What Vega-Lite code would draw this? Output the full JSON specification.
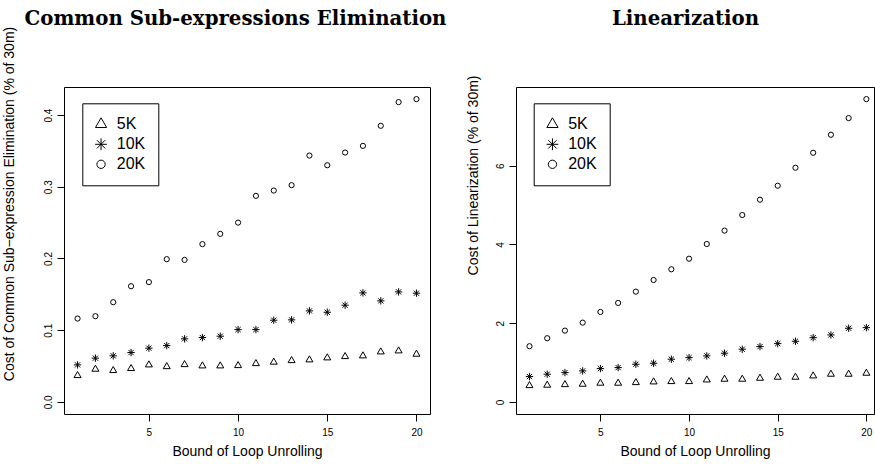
{
  "$schema": "https://vega.github.io/schema/vega-lite/v6.json",
  "autosize": {"type": "pad"},
  "padding": {"left": 1, "top": 8, "right": 0, "bottom": 5},
  "background": "white",
  "bounds": "flush",
  "spacing": 86,
  "datasets": {
    "cse": [
      {"bound":1,"size":"5K","cost":0.0367},{"bound":2,"size":"5K","cost":0.0456},{"bound":3,"size":"5K","cost":0.0437},{"bound":4,"size":"5K","cost":0.0465},{"bound":5,"size":"5K","cost":0.0516},{"bound":6,"size":"5K","cost":0.0492},{"bound":7,"size":"5K","cost":0.052},{"bound":8,"size":"5K","cost":0.0502},{"bound":9,"size":"5K","cost":0.0502},{"bound":10,"size":"5K","cost":0.0506},{"bound":11,"size":"5K","cost":0.0534},{"bound":12,"size":"5K","cost":0.0554},{"bound":13,"size":"5K","cost":0.0576},{"bound":14,"size":"5K","cost":0.0586},{"bound":15,"size":"5K","cost":0.0614},{"bound":16,"size":"5K","cost":0.0632},{"bound":17,"size":"5K","cost":0.0642},{"bound":18,"size":"5K","cost":0.0697},{"bound":19,"size":"5K","cost":0.0711},{"bound":20,"size":"5K","cost":0.0665},
      {"bound":1,"size":"10K","cost":0.0516},{"bound":2,"size":"10K","cost":0.061},{"bound":3,"size":"10K","cost":0.0642},{"bound":4,"size":"10K","cost":0.0688},{"bound":5,"size":"10K","cost":0.0749},{"bound":6,"size":"10K","cost":0.0785},{"bound":7,"size":"10K","cost":0.0879},{"bound":8,"size":"10K","cost":0.0897},{"bound":9,"size":"10K","cost":0.0916},{"bound":10,"size":"10K","cost":0.1008},{"bound":11,"size":"10K","cost":0.1008},{"bound":12,"size":"10K","cost":0.1139},{"bound":13,"size":"10K","cost":0.1144},{"bound":14,"size":"10K","cost":0.1269},{"bound":15,"size":"10K","cost":0.125},{"bound":16,"size":"10K","cost":0.1348},{"bound":17,"size":"10K","cost":0.152},{"bound":18,"size":"10K","cost":0.1409},{"bound":19,"size":"10K","cost":0.1534},{"bound":20,"size":"10K","cost":0.1516},
      {"bound":1,"size":"20K","cost":0.1162},{"bound":2,"size":"20K","cost":0.1195},{"bound":3,"size":"20K","cost":0.139},{"bound":4,"size":"20K","cost":0.1613},{"bound":5,"size":"20K","cost":0.167},{"bound":6,"size":"20K","cost":0.199},{"bound":7,"size":"20K","cost":0.198},{"bound":8,"size":"20K","cost":0.22},{"bound":9,"size":"20K","cost":0.2343},{"bound":10,"size":"20K","cost":0.25},{"bound":11,"size":"20K","cost":0.2873},{"bound":12,"size":"20K","cost":0.2947},{"bound":13,"size":"20K","cost":0.3022},{"bound":14,"size":"20K","cost":0.3435},{"bound":15,"size":"20K","cost":0.33},{"bound":16,"size":"20K","cost":0.3477},{"bound":17,"size":"20K","cost":0.357},{"bound":18,"size":"20K","cost":0.385},{"bound":19,"size":"20K","cost":0.418},{"bound":20,"size":"20K","cost":0.4222}
    ],
    "lin": [
      {"bound":1,"size":"5K","cost":0.414},{"bound":2,"size":"5K","cost":0.424},{"bound":3,"size":"5K","cost":0.439},{"bound":4,"size":"5K","cost":0.449},{"bound":5,"size":"5K","cost":0.475},{"bound":6,"size":"5K","cost":0.475},{"bound":7,"size":"5K","cost":0.49},{"bound":8,"size":"5K","cost":0.508},{"bound":9,"size":"5K","cost":0.516},{"bound":10,"size":"5K","cost":0.516},{"bound":11,"size":"5K","cost":0.558},{"bound":12,"size":"5K","cost":0.576},{"bound":13,"size":"5K","cost":0.576},{"bound":14,"size":"5K","cost":0.601},{"bound":15,"size":"5K","cost":0.627},{"bound":16,"size":"5K","cost":0.627},{"bound":17,"size":"5K","cost":0.66},{"bound":18,"size":"5K","cost":0.703},{"bound":19,"size":"5K","cost":0.703},{"bound":20,"size":"5K","cost":0.728},
      {"bound":1,"size":"10K","cost":0.643},{"bound":2,"size":"10K","cost":0.703},{"bound":3,"size":"10K","cost":0.744},{"bound":4,"size":"10K","cost":0.787},{"bound":5,"size":"10K","cost":0.845},{"bound":6,"size":"10K","cost":0.871},{"bound":7,"size":"10K","cost":0.956},{"bound":8,"size":"10K","cost":0.982},{"bound":9,"size":"10K","cost":1.084},{"bound":10,"size":"10K","cost":1.124},{"bound":11,"size":"10K","cost":1.168},{"bound":12,"size":"10K","cost":1.236},{"bound":13,"size":"10K","cost":1.338},{"bound":14,"size":"10K","cost":1.404},{"bound":15,"size":"10K","cost":1.48},{"bound":16,"size":"10K","cost":1.54},{"bound":17,"size":"10K","cost":1.632},{"bound":18,"size":"10K","cost":1.7},{"bound":19,"size":"10K","cost":1.87},{"bound":20,"size":"10K","cost":1.886},
      {"bound":1,"size":"20K","cost":1.414},{"bound":2,"size":"20K","cost":1.617},{"bound":3,"size":"20K","cost":1.81},{"bound":4,"size":"20K","cost":2.013},{"bound":5,"size":"20K","cost":2.284},{"bound":6,"size":"20K","cost":2.513},{"bound":7,"size":"20K","cost":2.8},{"bound":8,"size":"20K","cost":3.096},{"bound":9,"size":"20K","cost":3.368},{"bound":10,"size":"20K","cost":3.637},{"bound":11,"size":"20K","cost":4.01},{"bound":12,"size":"20K","cost":4.35},{"bound":13,"size":"20K","cost":4.746},{"bound":14,"size":"20K","cost":5.135},{"bound":15,"size":"20K","cost":5.49},{"bound":16,"size":"20K","cost":5.947},{"bound":17,"size":"20K","cost":6.327},{"bound":18,"size":"20K","cost":6.784},{"bound":19,"size":"20K","cost":7.208},{"bound":20,"size":"20K","cost":7.69}
    ]
  },
  "config": {
    "view": {"stroke": "black", "strokeWidth": 1},
    "axis": {
      "grid": false, "domain": false, "tickColor": "black", "tickSize": 7, "tickWidth": 1,
      "labelColor": "black", "labelFont": "Liberation Sans", "labelFontSize": 10,
      "titleFont": "Liberation Sans", "titleFontSize": 14, "titleFontWeight": "normal", "titleColor": "black"
    },
    "title": {"font": "DejaVu Serif", "fontSize": 19.75, "fontWeight": "bold", "color": "black"},
    "legend": {
      "title": null, "orient": "none", "strokeColor": "black", "fillColor": "white", "padding": 13,
      "rowPadding": 4, "labelFont": "Liberation Sans", "labelFontSize": 16, "labelColor": "black",
      "symbolSize": 69, "symbolStrokeColor": "black", "symbolStrokeWidth": 1, "symbolFillColor": "transparent",
      "symbolOffset": -2.25, "labelOffset": 7.7
    }
  },
  "resolve": {"scale": {"shape": "independent", "x": "independent", "y": "independent"}, "legend": {"shape": "independent"}},
  "hconcat": [
    {
      "width": 366, "height": 327,
      "title": {"text": "Common Sub-expressions Elimination", "anchor": "middle", "frame": "group", "dx": -11.5, "offset": -18.5, "baseline": "alphabetic"},
      "data": {"name": "cse"},
      "mark": {"type": "point", "filled": false, "color": "black", "strokeWidth": 1, "size": 27, "opacity": 1},
      "encoding": {
        "x": {"field": "bound", "type": "quantitative", "scale": {"domain": [0.24, 20.76], "nice": false, "zero": false},
              "axis": {"values": [5, 10, 15, 20], "title": "Bound of Loop Unrolling", "labelPadding": 6, "titlePadding": 7.5}},
        "y": {"field": "cost", "type": "quantitative", "scale": {"domain": [-0.01689, 0.43909], "nice": false, "zero": false},
              "axis": {"values": [0, 0.1, 0.2, 0.3, 0.4], "format": ".1f", "labelAngle": 270, "labelAlign": "center", "labelBaseline": "alphabetic", "labelPadding": 6,
                       "titleX": -51, "titleY": 116.5, "titleAngle": 270, "titleAlign": "center", "titleBaseline": "alphabetic",
                       "title": "Cost of Common Sub−expression Elimination (% of 30m)"}},
        "shape": {"field": "size", "type": "nominal",
                  "scale": {"domain": ["5K", "10K", "20K"], "range": ["M0,-1.555L1.347,0.778L-1.347,0.778Z", "M-1.414,0L1.414,0M0,-1.414L0,1.414M-1,-1L1,1M-1,1L1,-1", "circle"]},
                  "legend": {"orient": "none", "legendX": 18.3, "legendY": 16.3}}
      }
    },
    {
      "width": 358, "height": 327,
      "title": {"text": "Linearization", "anchor": "middle", "frame": "group", "dx": -9.5, "offset": 30, "baseline": "alphabetic"},
      "data": {"name": "lin"},
      "mark": {"type": "point", "filled": false, "color": "black", "strokeWidth": 1, "size": 27, "opacity": 1},
      "encoding": {
        "x": {"field": "bound", "type": "quantitative", "scale": {"domain": [0.24, 20.43], "nice": false, "zero": false},
              "axis": {"values": [5, 10, 15, 20], "title": "Bound of Loop Unrolling", "labelPadding": 6, "titlePadding": 7.5}},
        "y": {"field": "cost", "type": "quantitative", "scale": {"domain": [-0.3076, 7.9976], "nice": false, "zero": false},
              "axis": {"values": [0, 2, 4, 6], "format": "d", "labelAngle": 270, "labelAlign": "center", "labelBaseline": "alphabetic", "labelPadding": 6,
                       "titleX": -39, "titleY": 88, "titleAngle": 270, "titleAlign": "center", "titleBaseline": "alphabetic",
                       "title": "Cost of Linearization (% of 30m)"}},
        "shape": {"field": "size", "type": "nominal",
                  "scale": {"domain": ["5K", "10K", "20K"], "range": ["M0,-1.555L1.347,0.778L-1.347,0.778Z", "M-1.414,0L1.414,0M0,-1.414L0,1.414M-1,-1L1,1M-1,1L1,-1", "circle"]},
                  "legend": {"orient": "none", "legendX": 17.7, "legendY": 16.3}}
      }
    }
  ]
}
